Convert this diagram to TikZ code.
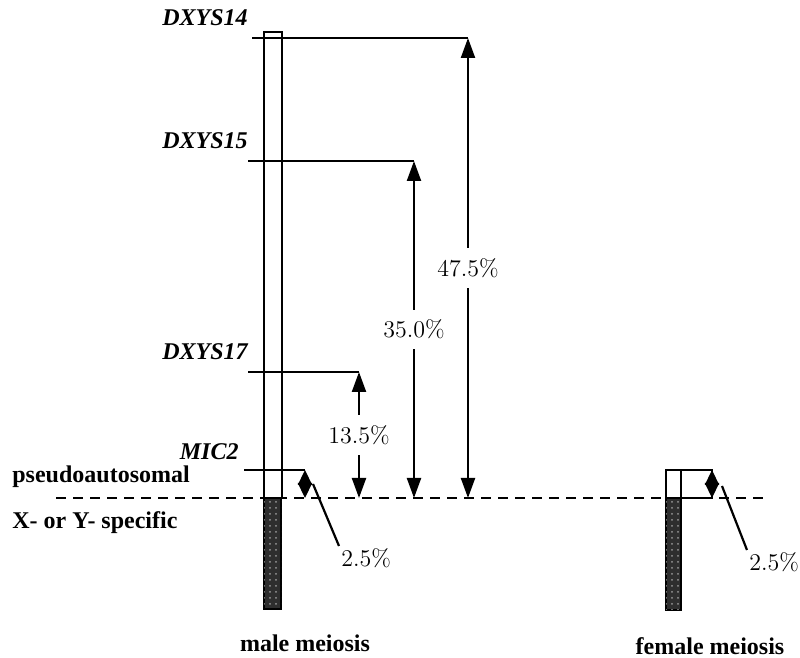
\documentclass[tikz,border=0pt]{standalone}
\usepackage{fontspec}
\newfontfamily\labfont{Liberation Serif}
\usetikzlibrary{arrows.meta, positioning, patterns}
\colorlet{shadec}{black!82}
\tikzset{
  chrom/.style={draw, line width=1.2pt, fill=white},
  markline/.style={line width=1.3pt},
  dist/.style={{Triangle[length=10pt,width=7pt]}-{Triangle[length=10pt,width=7pt]},
               line width=1.1pt},
  tiny/.style={{Triangle[length=7.5pt,width=7pt]}-{Triangle[length=7.5pt,width=7pt]},
               line width=1.1pt},
  boundary/.style={line width=1.1pt, dash pattern=on 5pt off 3.5pt},
  gene/.style={font=\labfont\bfseries\itshape\fontsize{12}{14}\selectfont, inner sep=1pt},
  pct/.style={font=\fontsize{12}{14}\selectfont, fill=white, inner xsep=1pt, inner ysep=5pt},
  region/.style={font=\labfont\bfseries\fontsize{12}{14}\selectfont, inner sep=0pt},
  speckle/.style={fill=shadec, postaction={pattern=dots, pattern color=white!60!black}},
}

\begin{document}
\begin{tikzpicture}[x=0.5pt, y=-0.5pt]
  \useasboundingbox (0,0) rectangle (800,658);

  % pseudoautosomal boundary
  \coordinate (dl) at (56,498);
  \coordinate (dr) at (765,498);
  \draw[boundary] (dl) -- (dr);
  \node[region, anchor=base west] (pa) at (12,483) {pseudoautosomal};
  \node[region, anchor=base west] (xy) at (12,529) {X- or Y- specific};

  % male chromosome
  \draw[chrom] (264,32) rectangle (282,498);
  \draw[chrom, speckle] (264,498) rectangle (281,609);

  % markers with recombination distances
  \foreach \n/\y/\xl/\xa/\p in {14/38/252/468/47.5, 15/161/248/414/35.0,
                                17/372/248/359/13.5} {
    \coordinate (l\n) at (\xl,\y);
    \coordinate (t\n) at (\xa,\y);
    \coordinate (b\n) at (\xa,498);
    \node[gene, anchor=south east] (g\n) at (250,\y-10) {DXYS\n};
    \draw[markline] (l\n) -- (t\n);
    \draw[dist] (t\n) -- (b\n) node[pct, midway] (p\n) {\p\%};
  }

  % MIC2
  \coordinate (lm) at (244,470);
  \coordinate (tm) at (305,470);
  \coordinate (bm) at (305,498);
  \node[gene, anchor=south east] (gm) at (241,462) {MIC2};
  \draw[markline] (lm) -- (tm);
  \draw[tiny] (tm) -- (bm);
  \coordinate (qm) at (313,484);
  \node[font=\fontsize{12}{14}\selectfont, anchor=north west, inner sep=1pt]
    (pm) at (339,546) {2.5\%};
  \draw[line width=1.1pt] (qm) -- (pm.north west);

  % female chromosome
  \draw[chrom] (666,470) rectangle (712,498);
  \draw[line width=1.2pt] (681,470) -- (681,498);
  \draw[chrom, speckle] (666,498) rectangle (681,610);
  \coordinate (tf) at (712,470);
  \coordinate (bf) at (712,498);
  \draw[tiny] (tf) -- (bf);
  \coordinate (qf) at (722,486);
  \node[font=\fontsize{12}{14}\selectfont, anchor=north west, inner sep=1pt]
    (pf) at (747,550) {2.5\%};
  \draw[line width=1.1pt] (qf) -- (pf.north west);

  % meioses
  \node[region, anchor=base] (male) at (305,652) {male meiosis};
  \node[region, anchor=base] (female) at (710,654) {female meiosis};
\end{tikzpicture}
\end{document}
